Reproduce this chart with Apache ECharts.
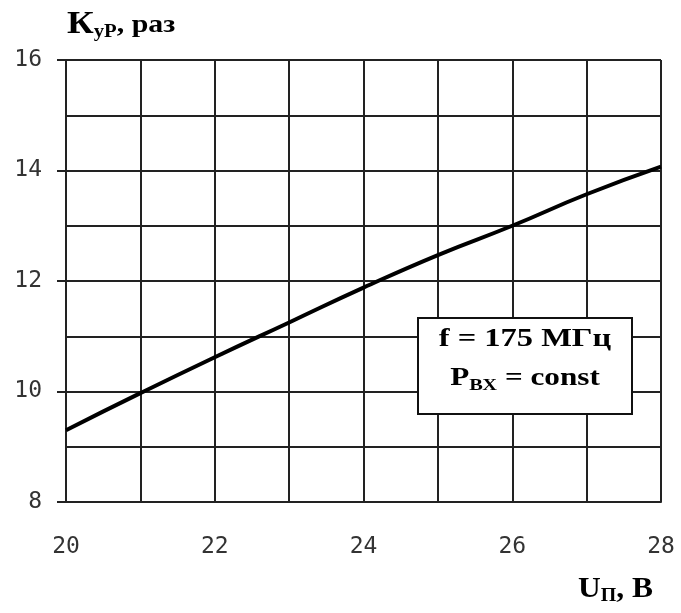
<!DOCTYPE html>
<html><head><meta charset="utf-8">
<script src="https://cdn.jsdelivr.net/npm/echarts@6/dist/echarts.min.js"></script>
<style>html,body{margin:0;padding:0;background:#fff}#c{width:681px;height:613px}</style>
</head><body><div id="c"></div>
<script>
const uValues = [20, 21, 22, 23, 24, 25, 26, 27, 28];
const kValues = [9.3, 9.97, 10.62, 11.25, 11.88, 12.47, 13.0, 13.57, 14.07];
const xTicks = [20, 22, 24, 26, 28];
const yTicks = [8, 10, 12, 14, 16];
const legendLine1 = 'f = 175 МГц';
const legendLine2 = ['P', 'ВХ', ' = const'];
const yTitle = ['К', 'уР', ', раз'];
const xTitle = ['U', 'П', ', В'];

const chart = echarts.init(document.getElementById('c'));
const gridColor = '#222';
const serif = 'Liberation Serif';
chart.setOption({
  animation: false,
  backgroundColor: '#fff',
  grid: {left: 66, right: 20, top: 60, bottom: 111},
  xAxis: {
    type: 'value', min: xTicks[0], max: xTicks[xTicks.length-1], interval: 2,
    axisLine: {show: true, lineStyle: {color: gridColor, width: 2}},
    axisTick: {show: false},
    axisLabel: {margin: 34, fontFamily: 'DejaVu Sans Mono', fontSize: 23, color: '#333'},
    splitLine: {show: true, lineStyle: {color: gridColor, width: 2}},
    minorTick: {show: false, splitNumber: 2},
    minorSplitLine: {show: true, lineStyle: {color: gridColor, width: 2}}
  },
  yAxis: {
    type: 'value', min: yTicks[0], max: yTicks[yTicks.length-1], interval: 2,
    axisLine: {show: true, lineStyle: {color: gridColor, width: 2}},
    axisTick: {show: true, length: 9, lineStyle: {color: gridColor, width: 2}},
    axisLabel: {margin: 24, fontFamily: 'DejaVu Sans Mono', fontSize: 23, color: '#333'},
    splitLine: {show: true, lineStyle: {color: gridColor, width: 2}},
    minorTick: {show: false, splitNumber: 2},
    minorSplitLine: {show: true, lineStyle: {color: gridColor, width: 2}}
  },
  series: [{
    type: 'line', data: uValues.map((u, i) => [u, kValues[i]]),
    showSymbol: false, smooth: true,
    lineStyle: {color: '#000', width: 4}, z: 5
  }],
  graphic: [
    {type: 'text', x: 67, y: 41, scaleX: 1.15, z: 100, style: {
      text: '{b|' + yTitle[0] + '}{s|' + yTitle[1] + '}{c|' + yTitle[2] + '}',
      verticalAlign: 'bottom',
      rich: {
        b: {fontFamily: serif, fontWeight: 'bold', fontSize: 32, fill: '#000'},
        s: {fontFamily: serif, fontWeight: 'bold', fontSize: 18, fill: '#000', padding: [14, 0, 0, 0]},
        c: {fontFamily: serif, fontWeight: 'bold', fontSize: 26, fill: '#000'}
      }}},
    {type: 'text', x: 578, y: 606, scaleX: 1.05, z: 100, style: {
      text: '{b|' + xTitle[0] + '}{s|' + xTitle[1] + '}{b|' + xTitle[2] + '}',
      verticalAlign: 'bottom',
      rich: {
        b: {fontFamily: serif, fontWeight: 'bold', fontSize: 30, fill: '#000'},
        s: {fontFamily: serif, fontWeight: 'bold', fontSize: 19, fill: '#000', padding: [14, 0, 0, 0]}
      }}},
    {type: 'rect', z: 100, shape: {x: 418, y: 318, width: 214, height: 96},
     style: {fill: '#fff', stroke: '#111', lineWidth: 2}},
    {type: 'text', x: 525, y: 339, scaleX: 1.25, originX: 0, z: 101, style: {
      text: legendLine1, align: 'center', verticalAlign: 'middle',
      fontFamily: serif, fontWeight: 'bold', fontSize: 26, fill: '#000'}},
    {type: 'text', x: 525, y: 378, scaleX: 1.2, originX: 0, z: 101, style: {
      text: '{a|' + legendLine2[0] + '}{s|' + legendLine2[1] + '}{a|' + legendLine2[2] + '}',
      align: 'center', verticalAlign: 'middle',
      rich: {
        a: {fontFamily: serif, fontWeight: 'bold', fontSize: 26, fill: '#000'},
        s: {fontFamily: serif, fontWeight: 'bold', fontSize: 17, fill: '#000', padding: [16, 0, 0, 0]}
      }}}
  ]
});
</script></body></html>
